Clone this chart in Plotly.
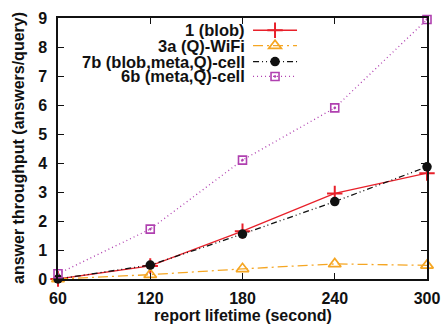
import plotly.graph_objects as go

x_vals = [60, 120, 180, 240, 300]
blob_1 = [0.0, 0.45, 1.65, 2.95, 3.65]
q_wifi_3a = [0.0, 0.15, 0.35, 0.52, 0.47]
blob_meta_q_7b = [0.0, 0.48, 1.55, 2.67, 3.87]
meta_q_6b = [0.18, 1.72, 4.10, 5.90, 8.95]
series_names = ["1 (blob)", "3a (Q)-WiFi", "7b (blob,meta,Q)-cell", "6b (meta,Q)-cell"]
x_ticks = [60, 120, 180, 240, 300]
y_ticks = list(range(0, 10))

FONT = "Liberation Sans"
TXT = "#111111"
styles = [
    dict(color="#e8202a", dash="solid", symbol="cross-thin-open", msize=11, mline=2, mcolor="#e8202a"),
    dict(color="#f5a623", dash="10px,4px,2px,4px", symbol="triangle-up-open", msize=11, mline=1.7, mcolor="#f5a623"),
    dict(color="#111111", dash="6px,3px,1px,3px,1px,3px", symbol="circle", msize=9.5, mline=0, mcolor="#111111"),
    dict(color="#b040b0", dash="1px,3px", symbol="square-open-dot", msize=8, mline=1.6, mcolor="#b040b0"),
]
data = [blob_1, q_wifi_3a, blob_meta_q_7b, meta_q_6b]

fig = go.Figure()
legend_y = [0.953, 0.894, 0.833, 0.776]
for i, (ys, st) in enumerate(zip(data, styles)):
    lg = "legend" if i == 0 else f"legend{i+1}"
    fig.add_trace(go.Scatter(
        x=x_vals, y=ys, mode="lines+markers", name=" ",
        line=dict(color=st["color"], dash=st["dash"], width=1.3),
        marker=dict(symbol=st["symbol"], size=st["msize"], color=st["mcolor"],
                    line=dict(width=st["mline"], color=st["mcolor"])),
        legend=lg, cliponaxis=False,
    ))

legend_common = dict(bgcolor="rgba(0,0,0,0)", borderwidth=0, xanchor="left", yanchor="middle",
                     x=0.515, font=dict(size=10, family=FONT), itemwidth=44)
layout_legends = {}
for i in range(4):
    key = "legend" if i == 0 else f"legend{i+1}"
    layout_legends[key] = dict(legend_common, y=legend_y[i])

annotations = []
for i, name in enumerate(series_names):
    annotations.append(dict(
        xref="paper", yref="paper", x=0.512, y=legend_y[i], xanchor="right", yanchor="middle",
        text=f"<b>{name}</b>", showarrow=False, font=dict(size=16.5, family=FONT, color=TXT),
    ))
annotations.append(dict(
    xref="paper", yref="paper", x=0.5, y=-0.14, xanchor="center", yanchor="middle",
    text="<b>report lifetime (second)</b>", showarrow=False, font=dict(size=16, family=FONT, color=TXT)))
annotations.append(dict(
    xref="paper", yref="paper", x=-0.107, y=0.5, xanchor="center", yanchor="middle", textangle=-90,
    text="<b>answer throughput (answers/query)</b>", showarrow=False, font=dict(size=16, family=FONT, color=TXT)))

axis_common = dict(
    showgrid=False, zeroline=False, showline=True, linecolor=TXT, linewidth=1.5,
    mirror="ticks", ticks="inside", ticklen=6, tickwidth=1.3, tickcolor=TXT,
    tickfont=dict(size=16, family=FONT, color=TXT, weight="bold"), automargin=False,
)

fig.update_layout(
    width=442, height=324,
    margin=dict(l=58, r=15, t=18, b=45),
    plot_bgcolor="white", paper_bgcolor="white",
    showlegend=True,
    annotations=annotations,
    xaxis=dict(axis_common, range=[60, 300], tickvals=x_ticks, ticklabelstandoff=4),
    yaxis=dict(axis_common, range=[0, 9], tickvals=y_ticks, ticklabelstandoff=6),
    **layout_legends,
)

fig.write_html("out.html")
